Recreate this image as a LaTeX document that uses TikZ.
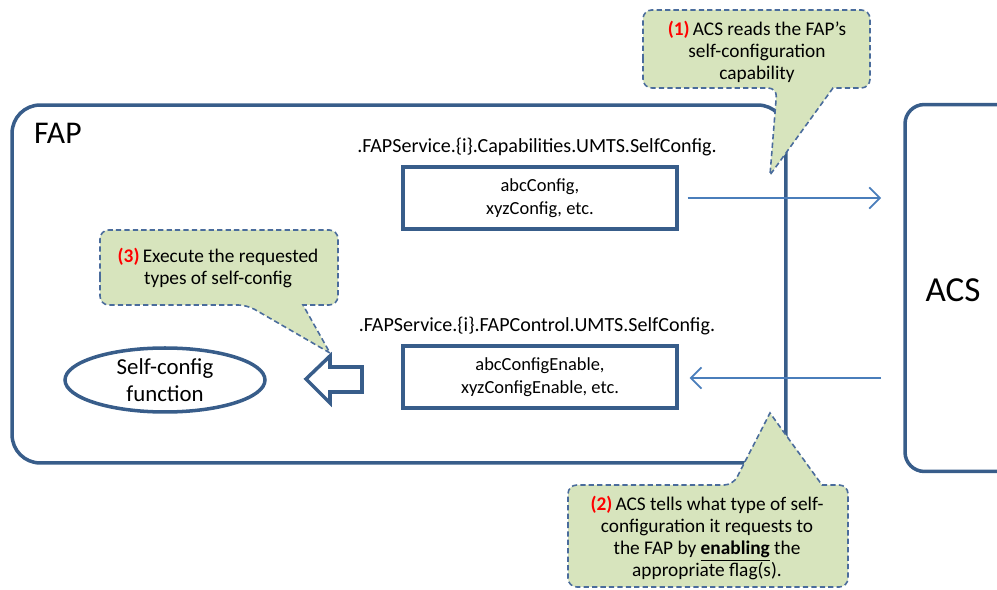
\documentclass[tikz,border=0pt]{standalone}
\usepackage{fontspec}
\setmainfont{Carlito}
\usetikzlibrary{arrows.meta,shapes.geometric}
\definecolor{fapblue}{HTML}{385D8A}
\definecolor{linkblue}{HTML}{4A7EBB}
\definecolor{notegreen}{HTML}{D7E4BD}
\definecolor{noteline}{HTML}{4A6C9C}
\newcommand{\callnum}[1]{\textcolor{red}{\textbf{(#1)}}}
\tikzset{
  panel/.style    = {draw=fapblue, line width=2pt},
  flow/.style     = {draw=linkblue, line width=1pt,
                     -{Straight Barb[length=6pt,width=12pt]}},
  note/.style     = {fill=notegreen, draw=noteline, line width=0.9pt,
                     dash pattern=on 3pt off 1.8pt},
  notetext/.style = {align=center, font=\fontsize{11}{12.5}\selectfont},
  pathtext/.style = {font=\fontsize{11.4}{13}\selectfont},
  boxtext/.style  = {align=center, font=\fontsize{10.5}{13}\selectfont}
}
\begin{document}
\begin{tikzpicture}[x=0.02cm, y=-0.02cm]
  \useasboundingbox (0,0) rectangle (997,590);
  % the two parties
  \node [panel, rounded corners=16pt, minimum width=15.48cm, minimum height=7.16cm] (fap) at (399,284) {};
  \node [anchor=west, font=\fontsize{18}{21}\selectfont] (faplabel) at (28,133) {FAP};
  \node [panel, rounded corners=11pt, minimum width=2.2cm, minimum height=7.34cm] (acs) at (960,288) {};
  \node [font=\fontsize{20}{24}\selectfont] (acslabel) at (953,290) {ACS};
  % parameter objects
  \node [pathtext] (cappath) at (537,147) {.FAPService.\{i\}.Capabilities.UMTS.SelfConfig.};
  \node [panel, boxtext, minimum width=5.48cm, minimum height=1.24cm] (capbox) at (540,198) {abcConfig,\\xyzConfig, etc.};
  \node [pathtext] (ctlpath) at (537,326) {.FAPService.\{i\}.FAPControl.UMTS.SelfConfig.};
  \node [panel, boxtext, minimum width=5.48cm, minimum height=1.24cm] (ctlbox) at (540,377) {abcConfigEnable,\\xyzConfigEnable, etc.};
  \node [panel, ellipse, align=center, minimum width=4cm, minimum height=1.28cm, inner sep=0pt,
         font=\fontsize{13}{15.3}\selectfont] (selfcfg) at (165,380) {Self-config\\function};
  % flows
  \coordinate (acsin)  at (881,198);
  \coordinate (acsout) at (881,378);
  \draw [flow] ([xshift=0.18cm]capbox.east) -- (acsin);
  \draw [flow] (acsout) -- ([xshift=0.22cm]ctlbox.east |- acsout);
  \draw [panel, line join=miter] (306,379) -- (330,356) -- (330,367) -- (362,367) -- (362,392)
        -- (330,392) -- (330,403) -- cycle;
  % callouts
  \path [note, rounded corners=5pt] (643,49) -- (643,88) -- (777,88) [sharp corners] -- (770,175)
        -- (833,88) [rounded corners=5pt] -- (870,88) -- (870,10) -- (643,10) -- cycle;
  \node [notetext] (note1) at (757,52) {\callnum{1}\,ACS reads the FAP’s\\self-configuration\\capability};
  \path [note, rounded corners=5pt] (100,268) -- (100,305) -- (247,305) [sharp corners] -- (330,353)
        -- (303,305) [rounded corners=5pt] -- (338,305) -- (338,230) -- (100,230) -- cycle;
  \node [notetext] (note3) at (218,268) {\callnum{3}\,Execute the requested\\types of self-config};
  \path [note, rounded corners=5pt] (568,536) -- (568,485) -- (733,485) [sharp corners] -- (770,413)
        -- (822,485) [rounded corners=5pt] -- (848,485) -- (848,587) -- (568,587) -- cycle;
  \node [notetext] (note2) at (707,538) {\callnum{2}\,ACS tells what type of self-\\configuration it requests to\\the FAP by \underline{\textbf{enabling}} the\\appropriate flag(s).};
\end{tikzpicture}
\end{document}
